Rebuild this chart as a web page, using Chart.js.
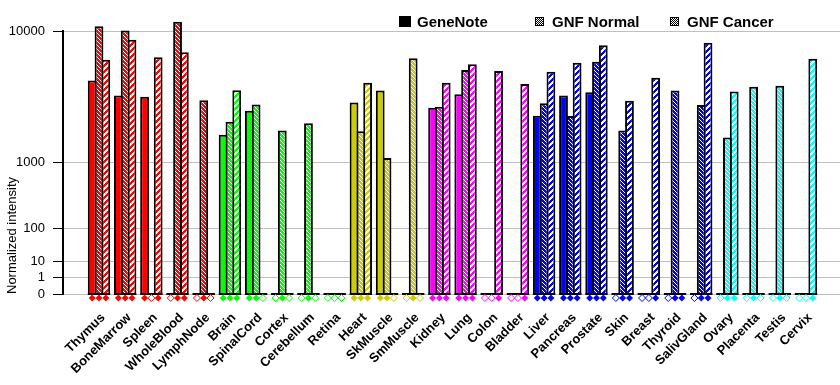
<!DOCTYPE html>
<html>
<head>
<meta charset="utf-8">
<script src="https://cdn.jsdelivr.net/npm/chart.js@4.4.0/dist/chart.umd.min.js"></script>
<style>
  html, body { margin: 0; padding: 0; background: #fff; }
  #wrap { width: 840px; height: 385px; }
</style>
</head>
<body>
<div id="wrap"><canvas id="chart" width="840" height="385"></canvas></div>
<script>
const RED = "#ff0000", GREEN = "#00ff00", OLIVE = "#cccc00", MAGENTA = "#ff00ff", BLUE = "#0000ff", CYAN = "#00ffff";

const categories = ["Thymus", "BoneMarrow", "Spleen", "WholeBlood", "LymphNode", "Brain", "SpinalCord", "Cortex",
    "Cerebellum", "Retina", "Heart", "SkMuscle", "SmMuscle", "Kidney", "Lung", "Colon", "Bladder", "Liver",
    "Pancreas", "Prostate", "Skin", "Breast", "Thyroid", "SalivGland", "Ovary", "Placenta", "Testis", "Cervix"];
const tissueColors = [RED, RED, RED, RED, RED, GREEN, GREEN, GREEN, GREEN, GREEN, OLIVE, OLIVE, OLIVE,
    MAGENTA, MAGENTA, MAGENTA, MAGENTA, BLUE, BLUE, BLUE, BLUE, BLUE, BLUE, BLUE, CYAN, CYAN, CYAN, CYAN];

const geneNote = [5000, 3920, 3850, null, null, 1890, 3010, null, null, null, 3480, 4260, null, 3180, 4010,
    null, null, 2750, 3920, 4140, null, null, null, null, null, null, null, null];
const gnfNormal = [10600, 10070, null, 11220, 3620, 2450, 3360, 2060, 2380, null, 2030, 1120, 6950, 3240, 5860,
    null, null, 3440, 2740, 6620, 2060, null, 4260, 3340, 1780, 4540, 4610, null];
const gnfCancer = [6810, 8930, 7050, 7550, null, 4290, null, null, null, null, 4830, null, null, 4830, 6390,
    5780, 4730, 5720, 6530, 8300, 3600, 5220, null, 8590, 4190, null, null, 6900];
// present calls (GeneNote, GNF Normal, GNF Cancer) shown as diamonds under each group
const calls = ["111", "111", "101", "011", "010", "111", "110", "010", "010", "000", "111", "110", "010", "111",
    "111", "001", "001", "111", "111", "111", "011", "001", "011", "011", "011", "010", "010", "001"];

const yTickValues = [0, 1, 10, 100, 1000, 10000];
const seriesNames = ["GeneNote", "GNF Normal", "GNF Cancer"];

// each decade gets twice the height of the one below: pixel ~ value^log10(2)
const EXP = Math.log10(2);
const powMap = v => (v > 0 ? Math.pow(v, EXP) : 0);

class PowerScale extends Chart.Scale {
    static id = "power";
    static defaults = {};
    parse(raw, index) {
        return Chart.LinearScale.prototype.parse.apply(this, [raw, index]);
    }
    determineDataLimits() {
        this.min = 0;
        this.max = this.options.max;
    }
    buildTicks() {
        return yTickValues.map(v => ({ value: v }));
    }
    getLabelForValue(v) {
        return String(v);
    }
    configure() {
        super.configure();
        this._range = powMap(this.max);
    }
    getPixelForValue(v) {
        if (v === null || v === undefined || isNaN(v)) return NaN;
        return this.getPixelForDecimal(powMap(v) / this._range);
    }
    getValueForPixel(p) {
        return Math.pow(this.getDecimalForPixel(p) * this._range, 1 / EXP);
    }
}
Chart.register(PowerScale);

function hatch(color, kind) {
    const n = kind === "normal" ? 4 : 6;
    const c = document.createElement("canvas");
    c.width = n;
    c.height = n;
    const g = c.getContext("2d");
    for (let x = 0; x < n; x++) {
        for (let y = 0; y < n; y++) {
            const on = kind === "normal" ? (x - y + n) % n !== 0 : (x + y) % n < 3;
            g.fillStyle = on ? color : "#fff";
            g.fillRect(x, y, 1, 1);
        }
    }
    return g.createPattern(c, "repeat");
}

function legendIcon(ctx, x, y, size, kind) {
    ctx.save();
    ctx.beginPath();
    ctx.rect(x, y, size, size);
    ctx.clip();
    ctx.fillStyle = "#fff";
    ctx.fillRect(x, y, size, size);
    ctx.strokeStyle = "#000";
    ctx.lineWidth = 1;
    for (let k = -size; k <= size * 2; k += 2) {
        ctx.beginPath();
        if (kind === "normal") {
            ctx.moveTo(x + k, y);
            ctx.lineTo(x + k + size, y + size);
        } else {
            ctx.moveTo(x + k, y + size);
            ctx.lineTo(x + k + size, y);
        }
        ctx.stroke();
    }
    ctx.restore();
    ctx.strokeStyle = "#000";
    ctx.lineWidth = 1;
    ctx.strokeRect(x + 0.5, y + 0.5, size - 1, size - 1);
}

const extras = {
    id: "extras",
    afterDatasetsDraw(chart) {
        const ctx = chart.ctx;
        const y0 = chart.scales.y.getPixelForValue(0);
        const metas = [0, 1, 2].map(i => chart.getDatasetMeta(i));
        ctx.save();
        categories.forEach((name, i) => {
            const first = metas[0].data[i];
            const last = metas[2].data[i];
            ctx.strokeStyle = "#000";
            ctx.lineWidth = 2;
            ctx.beginPath();
            ctx.moveTo(first.x - first.width / 2, y0);
            ctx.lineTo(last.x + last.width / 2, y0);
            ctx.stroke();

            metas.forEach((m, k) => {
                const x = m.data[i].x;
                const y = y0 + 4;
                const r = 3.5;
                ctx.beginPath();
                ctx.moveTo(x, y - r);
                ctx.lineTo(x + r, y);
                ctx.lineTo(x, y + r);
                ctx.lineTo(x - r, y);
                ctx.closePath();
                if (calls[i][k] === "1") {
                    ctx.fillStyle = tissueColors[i];
                    ctx.fill();
                } else {
                    ctx.fillStyle = "#fff";
                    ctx.fill();
                    ctx.strokeStyle = tissueColors[i];
                    ctx.lineWidth = 1;
                    ctx.stroke();
                }
            });
        });

        // legend
        ctx.font = "bold 15px 'Liberation Sans', Arial, sans-serif";
        ctx.fillStyle = "#000";
        ctx.textBaseline = "alphabetic";
        ctx.fillRect(399, 16, 12, 11);
        ctx.fillText(seriesNames[0], 417, 27);
        legendIcon(ctx, 535, 17, 9, "normal");
        ctx.fillStyle = "#000";
        ctx.fillText(seriesNames[1], 552, 27);
        legendIcon(ctx, 670, 17, 9, "cancer");
        ctx.fillStyle = "#000";
        ctx.fillText(seriesNames[2], 687, 27);
        ctx.restore();
    }
};

Chart.defaults.font.family = "'Liberation Sans', Arial, sans-serif";
Chart.defaults.color = "#000";

const common = {
    borderColor: "#000",
    borderWidth: 2,
    categoryPercentage: 0.779,
    barPercentage: 1.294,
    clip: false
};

const toPoints = arr => arr.map((v, i) => ({ x: i, y: v }));

new Chart(document.getElementById("chart"), {
    type: "bar",
    data: {
        datasets: [
            { label: seriesNames[0], data: toPoints(geneNote), backgroundColor: tissueColors, ...common },
            { label: seriesNames[1], data: toPoints(gnfNormal), backgroundColor: tissueColors.map(c => hatch(c, "normal")), ...common },
            { label: seriesNames[2], data: toPoints(gnfCancer), backgroundColor: tissueColors.map(c => hatch(c, "cancer")), ...common }
        ]
    },
    options: {
        responsive: false,
        animation: false,
        layout: { padding: { top: 31, right: 0, left: 0, bottom: 0 } },
        plugins: {
            legend: { display: false },
            tooltip: { enabled: false }
        },
        scales: {
            x: {
                type: "linear",
                min: -1.375,
                max: 28.3,
                offset: false,
                afterBuildTicks: s => { s.ticks = categories.map((_, i) => ({ value: i })); },
                afterFit: s => { s.height = 91; s.paddingLeft = 0; s.paddingRight = 0; },
                grid: { display: false, drawTicks: false, offset: false },
                border: { display: true, color: "#c0c0c0", width: 1 },
                ticks: {
                    autoSkip: false,
                    maxRotation: 45,
                    minRotation: 45,
                    padding: 16,
                    labelOffset: 4,
                    color: "#000",
                    font: { size: 13, weight: "bold" },
                    callback: v => categories[v]
                }
            },
            y: {
                type: "power",
                max: 10000,
                afterFit: s => { s.width = 63; s.paddingTop = 0; s.paddingBottom = 0; },
                grid: { color: "#c0c0c0", lineWidth: 1, tickColor: "#000", tickLength: 10 },
                border: { color: "#000", width: 2 },
                ticks: { color: "#000", font: { size: 13 }, padding: 8, callback: v => String(v) },
                title: {
                    display: true,
                    text: "Normalized intensity",
                    align: "start",
                    color: "#000",
                    font: { size: 13 },
                    padding: { top: 5, bottom: 0 }
                }
            }
        }
    },
    plugins: [extras]
});
</script>
</body>
</html>
